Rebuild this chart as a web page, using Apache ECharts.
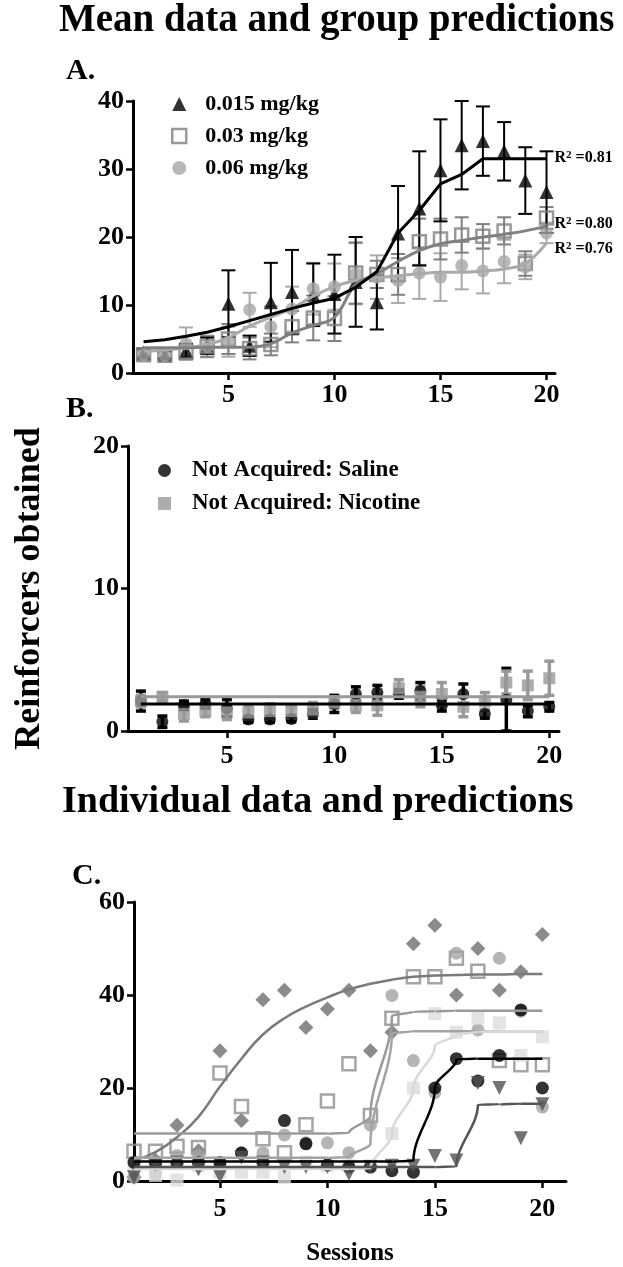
<!DOCTYPE html>
<html>
<head>
<meta charset="utf-8">
<script src="https://cdn.jsdelivr.net/npm/echarts@6/dist/echarts.min.js"></script>
<style>
  html, body { margin: 0; padding: 0; background: #fff; }
  #chart { width: 623px; height: 1267px; }
</style>
</head>
<body>
<div id="chart"></div>
<script>
// sessions shared by all panels
const sessions = [1, 2, 3, 4, 5, 6, 7, 8, 9, 10, 11, 12, 13, 14, 15, 16, 17, 18, 19, 20];
const sessionTicks = [5, 10, 15, 20];

// panel A: group means (+/- SEM) and fitted predictions
const doseNames = ['0.015 mg/kg', '0.03 mg/kg', '0.06 mg/kg'];
const meanLow = [3.0, 2.7, 3.3, 4.0, 10.2, 4.0, 10.4, 11.9, 11.5, 11.6, 13.4, 10.4, 20.5, 24.2, 29.8, 33.5, 34.1, 32.6, 28.3, 26.6];
const semLow = [0.6, 0.5, 1.0, 1.2, 4.9, 1.5, 5.8, 6.2, 4.6, 5.8, 6.6, 4.0, 7.0, 8.4, 7.5, 6.5, 5.1, 4.3, 4.9, 6.0];
const meanMid = [2.7, 2.6, 3.1, 3.9, 5.0, 3.6, 4.2, 6.8, 8.1, 8.0, 14.7, 14.5, 14.5, 19.3, 19.7, 20.3, 20.1, 20.9, 16.1, 22.8];
const semMid = [0.8, 0.6, 1.0, 1.5, 2.2, 1.6, 1.6, 2.3, 3.3, 3.3, 4.5, 2.0, 3.0, 3.4, 3.0, 2.6, 1.8, 2.0, 1.8, 1.6];
const meanHigh = [2.7, 2.6, 4.3, 3.9, 4.6, 9.3, 6.8, 9.4, 12.4, 12.7, 14.6, 14.1, 13.6, 14.7, 14.1, 15.8, 15.0, 16.4, 15.6, 20.6];
const semHigh = [0.6, 0.6, 2.4, 1.6, 2.2, 2.5, 3.0, 3.3, 3.8, 3.4, 4.5, 3.2, 3.3, 3.8, 3.5, 3.5, 3.3, 3.2, 1.8, 1.5];
const fitLow = [4.6, 4.9, 5.4, 6.0, 6.8, 7.7, 8.6, 9.5, 10.3, 11.0, 12.6, 14.9, 20.6, 23.9, 27.8, 29.2, 31.5, 31.5, 31.5, 31.5];
const fitMid = [3.7, 3.7, 3.7, 3.8, 3.8, 3.8, 4.3, 5.9, 7.0, 8.2, 13.0, 14.6, 16.4, 18.0, 19.0, 19.5, 20.0, 20.4, 20.9, 21.6];
const fitHigh = [3.2, 3.4, 3.7, 4.2, 5.2, 6.9, 8.2, 9.5, 11.3, 12.7, 13.6, 14.0, 14.3, 14.6, 14.8, 14.8, 15.0, 15.3, 16.1, 19.1];
const rSquared = ['0.81', '0.80', '0.76'];

// panel B: rats that did not acquire
const groupNames = ['Not Acquired: Saline', 'Not Acquired: Nicotine'];
const meanSaline = [2.1, 0.65, 1.8, 1.9, 1.6, 0.8, 0.8, 0.85, 1.2, 1.9, 2.6, 2.7, 2.6, 2.8, 1.8, 2.6, 1.2, 2.2, 1.4, 1.7];
const semSaline = [0.7, 0.4, 0.3, 0.3, 0.6, 0.2, 0.2, 0.2, 0.3, 0.6, 0.5, 0.5, 0.3, 0.6, 0.4, 0.7, 0.3, 2.2, 0.4, 0.3];
const meanNicotine = [2.1, 2.4, 1.2, 1.4, 1.3, 1.3, 1.4, 1.4, 1.5, 2.0, 1.8, 1.8, 3.0, 2.4, 2.6, 1.7, 2.1, 3.4, 3.2, 3.7];
const semNicotine = [0.4, 0.3, 0.5, 0.4, 0.5, 0.5, 0.5, 0.4, 0.5, 0.4, 0.5, 0.7, 0.6, 0.7, 0.8, 0.7, 0.6, 0.8, 1.0, 1.2];
const fitSaline = [1.9, 1.9, 1.9, 1.9, 1.9, 1.9, 1.9, 1.9, 1.9, 1.9, 1.9, 1.9, 1.9, 1.9, 1.9, 1.9, 1.9, 1.9, 1.9, 1.9];
const fitNicotine = [2.4, 2.4, 2.4, 2.4, 2.4, 2.4, 2.4, 2.4, 2.4, 2.4, 2.4, 2.4, 2.4, 2.4, 2.4, 2.4, 2.4, 2.4, 2.4, 2.4];

// panel C: individual rats and their predictions
const ratDiamond = [0.8, 4.5, 12, 6.5, 28, 13, 39, 41, 33, 37, 41, 28, 32, 51, 55, 40, 50, 41, 45, 53];
const ratOpenSquare = [6.4, 6.4, 7.5, 7.2, 23.2, 16, 9.1, 6.1, 12.1, 17.2, 25.2, 14.1, 35, 43.9, 43.9, 47.9, 45.1, 25.9, 25, 25];
const ratGrayCircle = [0.8, 1.5, 5.5, 5.5, 3.3, 6.1, 6.1, 9.9, 8.2, 8.2, 6.1, 12, 39.9, 25.9, 19, 49, 32.5, 47.9, 36.5, 15.9];
const ratLightSquare = [3.3, 1.2, 0.2, 3.3, 1.9, 1.9, 1.9, 0.8, 4.0, 3.3, 3.3, 3.3, 10.2, 20, 36, 32, 35, 34, 27, 31];
const ratBlackCircle = [4, 3.8, 3.8, 4, 4, 6, 4, 13, 8, 3.5, 3, 3, 2.2, 1.9, 20, 26.3, 21.5, 27, 36.8, 20];
const ratTriangle = [0.8, 3.5, 4, 2.5, 1, 5, 4, 3, 3, 3, 1.5, 3, 3.3, 3.3, 5.4, 4.4, 21.1, 20, 9.2, 16.5];
const predDiamond = [4.4, 6.2, 9.4, 13.8, 20.3, 26.3, 31.5, 35, 37.5, 39.5, 41.2, 42.4, 43.3, 43.9, 44.2, 44.3, 44.4, 44.4, 44.5, 44.5];
const predOpenSquare = [10.2, 10.2, 10.2, 10.2, 10.2, 10.2, 10.2, 10.2, 10.2, 10.2, 10.3, 14, 35.5, 36.4, 36.5, 36.6, 36.6, 36.6, 36.6, 36.6];
const predGrayCircle = [5, 5, 5, 5, 5, 5, 5, 5, 5, 5, 5.1, 8, 31.8, 32.2, 32.2, 32.2, 32.2, 32.2, 32.2, 32.2];
const predLightSquare = [2.6, 2.6, 2.6, 2.6, 2.6, 2.6, 2.6, 2.6, 2.6, 2.6, 2.6, 2.7, 10.2, 20, 29.1, 31.5, 32.1, 32.2, 32.2, 32.2];
const predBlackCircle = [4.2, 4.2, 4.2, 4.2, 4.2, 4.2, 4.2, 4.2, 4.2, 4.2, 4.2, 4.2, 4.2, 4.3, 20, 26.2, 26.3, 26.3, 26.3, 26.3];
const predTriangle = [3, 3, 3, 3, 3, 3, 3, 3, 3, 3, 3, 3, 3, 3, 3, 3.1, 16.4, 16.5, 16.6, 16.6];

const serif = '"Liberation Serif", "Times New Roman", serif';
const bold = { fontFamily: serif, fontWeight: 'bold', color: '#000' };

function pairs(values) {
  return sessions.map((s, i) => [s, values[i]]);
}
function triples(means, sems) {
  return sessions.map((s, i) => [s, means[i], sems[i]]);
}

function errorBars(color, width, capW) {
  return function (params, api) {
    const x = api.value(0), m = api.value(1), e = api.value(2);
    const hi = api.coord([x, m + e]);
    const lo = api.coord([x, Math.max(m - e, 0)]);
    const style = { stroke: color, lineWidth: width, fill: null };
    return {
      type: 'group',
      children: [
        { type: 'line', shape: { x1: hi[0], y1: hi[1], x2: lo[0], y2: lo[1] }, style: style },
        { type: 'line', shape: { x1: hi[0] - capW / 2, y1: hi[1], x2: hi[0] + capW / 2, y2: hi[1] }, style: style },
        { type: 'line', shape: { x1: lo[0] - capW / 2, y1: lo[1], x2: lo[0] + capW / 2, y2: lo[1] }, style: style }
      ]
    };
  };
}

function xAxisFor(grid, min, max, margin, extra) {
  return Object.assign({
    gridIndex: grid,
    type: 'value',
    min: min,
    max: max,
    axisLine: { onZero: false, lineStyle: { color: '#000', width: 3 } },
    axisTick: { customValues: sessionTicks, length: 7, lineStyle: { color: '#000', width: 2.5 } },
    axisLabel: Object.assign({ customValues: sessionTicks, fontSize: 26, margin: margin }, bold),
    splitLine: { show: false }
  }, extra || {});
}
function yAxisFor(grid, max, interval, extra) {
  return Object.assign({
    gridIndex: grid,
    type: 'value',
    min: 0,
    max: max,
    interval: interval,
    axisLine: { show: true, lineStyle: { color: '#000', width: 3 } },
    axisTick: { show: true, length: 7, lineStyle: { color: '#000', width: 2.5 } },
    axisLabel: Object.assign({ fontSize: 26, margin: 9 }, bold),
    splitLine: { show: false }
  }, extra || {});
}

function rLabel(value, offset) {
  return {
    show: true,
    distance: 8,
    offset: offset,
    formatter: '{r|R}{s|2}{r| =' + value + '}',
    rich: {
      r: { fontFamily: serif, fontWeight: 'bold', fontSize: 16, color: '#000' },
      s: { fontFamily: serif, fontWeight: 'bold', fontSize: 11, color: '#000', verticalAlign: 'top' }
    }
  };
}

function fitLine(name, axis, values, color, width, extra) {
  return Object.assign({
    name: name,
    type: 'line',
    xAxisIndex: axis,
    yAxisIndex: axis,
    data: pairs(values),
    showSymbol: false,
    smooth: 0.4,
    lineStyle: { color: color, width: width },
    itemStyle: { color: color },
    z: 4,
    silent: true
  }, extra || {});
}
function dots(name, axis, values, symbol, size, style, extra) {
  return Object.assign({
    name: name,
    type: 'scatter',
    xAxisIndex: axis,
    yAxisIndex: axis,
    data: pairs(values),
    symbol: symbol,
    symbolSize: size,
    itemStyle: style,
    z: 3
  }, extra || {});
}
function bars(axis, means, sems, color, width, capW) {
  return {
    type: 'custom',
    xAxisIndex: axis,
    yAxisIndex: axis,
    data: triples(means, sems),
    renderItem: errorBars(color, width, capW),
    z: 2,
    silent: true
  };
}

const openSquare = { color: 'rgba(255,255,255,0)', borderColor: '#7f7f7f', borderWidth: 2.5 };
const openSquareC = { color: 'rgba(255,255,255,0)', borderColor: '#8f8f8f', borderWidth: 2.5 };
const stepSmooth = { smooth: 0.35, smoothMonotone: 'y' };

const chart = echarts.init(document.getElementById('chart'), null, { renderer: 'canvas' });
chart.setOption({
  animation: false,
  backgroundColor: '#fff',
  title: [
    { text: 'Mean data and group predictions', left: 59, top: 1, padding: 0, textStyle: Object.assign({ fontSize: 39 }, bold) },
    { text: 'A.', left: 66, top: 56, padding: 0, textStyle: Object.assign({ fontSize: 30 }, bold) },
    { text: 'B.', left: 66, top: 394, padding: 0, textStyle: Object.assign({ fontSize: 30 }, bold) },
    { text: 'Individual data and predictions', left: 62, top: 783, padding: 0, textStyle: Object.assign({ fontSize: 38 }, bold) },
    { text: 'C.', left: 72, top: 861, padding: 0, textStyle: Object.assign({ fontSize: 30 }, bold) }
  ],
  legend: [
    {
      orient: 'vertical', left: 166, top: 88, itemWidth: 14, itemHeight: 14, itemGap: 10,
      selectedMode: false,
      data: [
        { name: doseNames[0], icon: 'triangle' },
        { name: doseNames[1], icon: 'rect', itemStyle: openSquare },
        { name: doseNames[2], icon: 'circle' }
      ],
      textStyle: Object.assign({ fontSize: 22, padding: [0, 0, 0, 14] }, bold)
    },
    {
      orient: 'vertical', left: 153, top: 454, itemWidth: 13, itemHeight: 13, itemGap: 10,
      selectedMode: false,
      data: [
        { name: groupNames[0], icon: 'circle' },
        { name: groupNames[1], icon: 'rect' }
      ],
      textStyle: Object.assign({ fontSize: 23, padding: [0, 0, 0, 16] }, bold)
    }
  ],
  grid: [
    { left: 133, top: 101, width: 422, height: 272 },
    { left: 128, top: 446, width: 431, height: 285 },
    { left: 134, top: 902, width: 432, height: 287 }
  ],
  xAxis: [
    xAxisFor(0, 0.5, 20.4, 9),
    xAxisFor(1, 0.4, 20.45, 12),
    xAxisFor(2, 1, 21.1, 15, {
      name: 'Sessions', nameLocation: 'middle', nameGap: 60,
      nameTextStyle: Object.assign({ fontSize: 25 }, bold)
    })
  ],
  yAxis: [
    yAxisFor(0, 40, 10),
    yAxisFor(1, 20, 10, {
      name: 'Reinforcers obtained', nameLocation: 'middle', nameGap: 80, nameRotate: 90,
      nameTextStyle: Object.assign({ fontSize: 36 }, bold)
    }),
    yAxisFor(2, 60, 20)
  ],
  series: [
    // panel A
    bars(0, meanHigh, semHigh, '#aaaaaa', 2, 14),
    bars(0, meanMid, semMid, '#808080', 2, 14),
    bars(0, meanLow, semLow, '#000000', 2, 14),
    dots(doseNames[0], 0, meanLow, 'triangle', 14, { color: '#000' }),
    dots(doseNames[1], 0, meanMid, 'rect', 13, openSquare),
    dots(doseNames[2], 0, meanHigh, 'circle', 13, { color: '#a6a6a6' }),
    fitLine('fit 0.06', 0, fitHigh, '#aaaaaa', 3, { endLabel: rLabel(rSquared[2], [0, 6]) }),
    fitLine('fit 0.03', 0, fitMid, '#808080', 3, { endLabel: rLabel(rSquared[1], [0, -2]) }),
    fitLine('fit 0.015', 0, fitLow, '#000000', 3, { smooth: false, endLabel: rLabel(rSquared[0], [0, -1]) }),

    // panel B
    bars(1, meanSaline, semSaline, '#000000', 3.5, 10),
    bars(1, meanNicotine, semNicotine, '#999999', 3.5, 10),
    dots(groupNames[0], 1, meanSaline, 'circle', 12, { color: '#000' }),
    dots(groupNames[1], 1, meanNicotine, 'rect', 12, { color: '#999999' }),
    fitLine('fit saline', 1, fitSaline, '#000000', 3, { smooth: false }),
    fitLine('fit nicotine', 1, fitNicotine, '#999999', 3, { smooth: false }),

    // panel C
    dots('rat diamond', 2, ratDiamond, 'diamond', 15, { color: '#6e6e6e' }),
    dots('rat open square', 2, ratOpenSquare, 'rect', 13, openSquareC),
    dots('rat gray circle', 2, ratGrayCircle, 'circle', 13, { color: '#a3a3a3' }),
    dots('rat light square', 2, ratLightSquare, 'rect', 13, { color: '#dcdcdc' }),
    dots('rat black circle', 2, ratBlackCircle, 'circle', 13, { color: '#000' }),
    dots('rat triangle', 2, ratTriangle, 'triangle', 14, { color: '#505050' }, { symbolRotate: 180 }),
    fitLine('pred diamond', 2, predDiamond, '#7a7a7a', 2.5, { smooth: 0.5 }),
    fitLine('pred open square', 2, predOpenSquare, '#9a9a9a', 2.5, stepSmooth),
    fitLine('pred gray circle', 2, predGrayCircle, '#a3a3a3', 2.5, stepSmooth),
    fitLine('pred light square', 2, predLightSquare, '#d9d9d9', 2.5, stepSmooth),
    fitLine('pred black circle', 2, predBlackCircle, '#000000', 2.5, stepSmooth),
    fitLine('pred triangle', 2, predTriangle, '#555555', 2.5, stepSmooth)
  ]
});
window.addEventListener('resize', () => chart.resize());
</script>
</body>
</html>
